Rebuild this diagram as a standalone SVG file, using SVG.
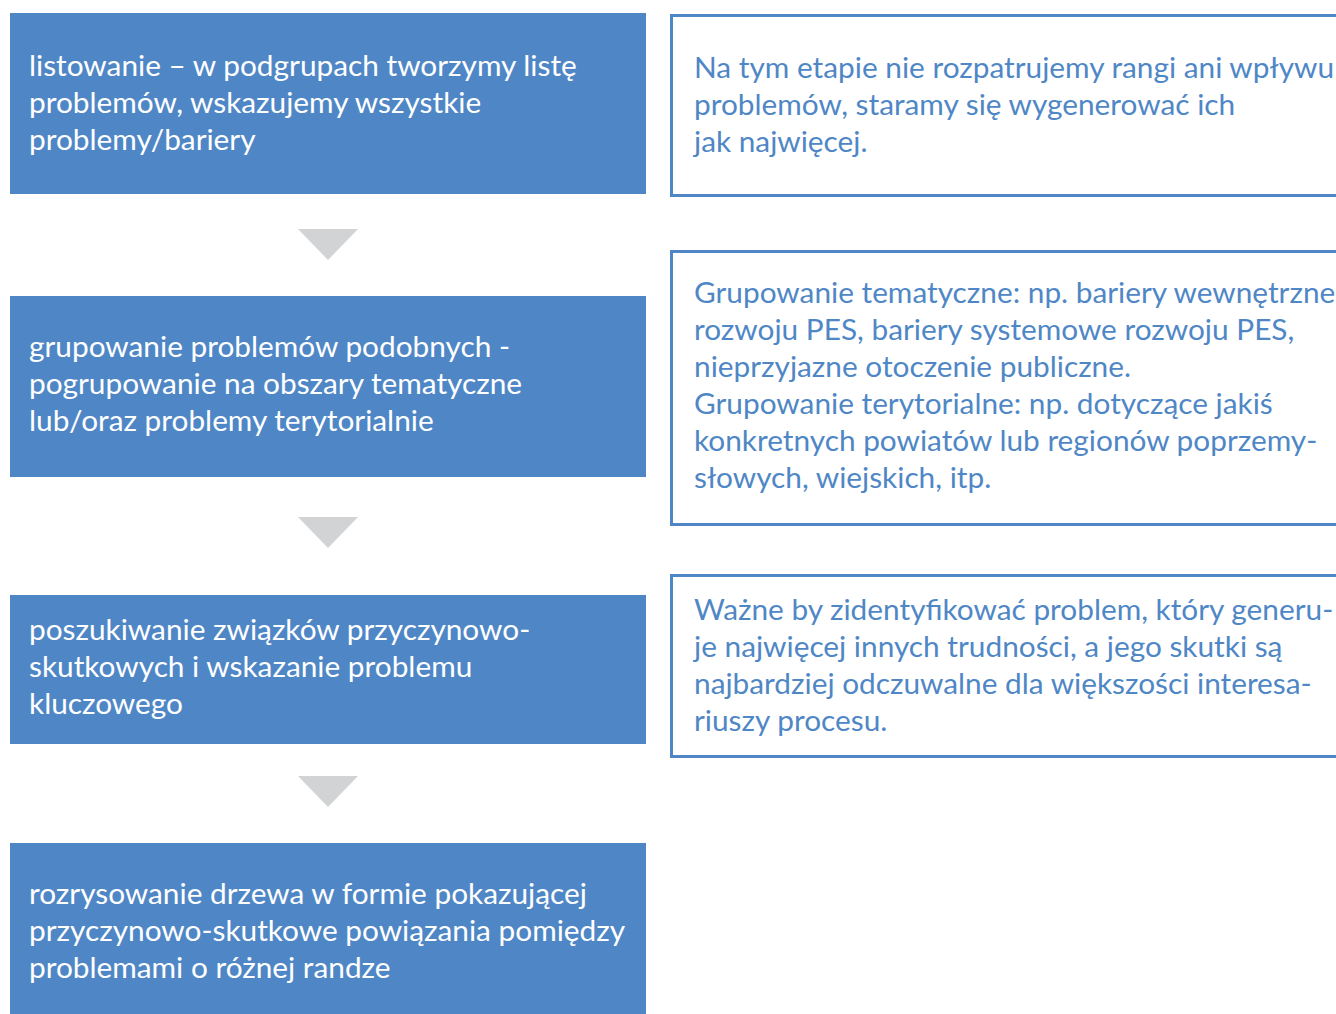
<svg xmlns="http://www.w3.org/2000/svg" width="1336" height="1014" viewBox="0 0 1336 1014">
  <style>
    .step { fill: #4f87c6; }
    .note { fill: #ffffff; stroke: #4f87c6; stroke-width: 3; }
    .arrow { fill: #d1d3d5; }
    text { font-family: Lato, "Noto Sans", "Liberation Sans", sans-serif; font-size: 29.8px; }
    .light { fill: #ffffff; }
    .blue { fill: #4f87c6; }
  </style>
  <rect width="1336" height="1014" fill="#ffffff"/>

  <!-- flow arrows between steps -->
  <g id="connectors">
    <polygon class="arrow" points="298,229 358,229 328,260"/>
    <polygon class="arrow" points="298,517 358,517 328,548"/>
    <polygon class="arrow" points="298,776 358,776 328,807"/>
  </g>

  <g id="step1">
    <rect class="step" x="10" y="13" width="636" height="181"/>
    <text class="light">
      <tspan x="29" y="76">listowanie – w podgrupach tworzymy listę</tspan>
      <tspan x="29" y="113">problemów, wskazujemy wszystkie</tspan>
      <tspan x="29" y="150">problemy/bariery</tspan>
    </text>
  </g>

  <g id="step2">
    <rect class="step" x="10" y="296" width="636" height="181"/>
    <text class="light">
      <tspan x="29" y="357">grupowanie problemów podobnych -</tspan>
      <tspan x="29" y="394">pogrupowanie na obszary tematyczne</tspan>
      <tspan x="29" y="431">lub/oraz problemy terytorialnie</tspan>
    </text>
  </g>

  <g id="step3">
    <rect class="step" x="10" y="595" width="636" height="149"/>
    <text class="light">
      <tspan x="29" y="640">poszukiwanie związków przyczynowo-</tspan>
      <tspan x="29" y="677">skutkowych i wskazanie problemu</tspan>
      <tspan x="29" y="714">kluczowego</tspan>
    </text>
  </g>

  <g id="step4">
    <rect class="step" x="10" y="843" width="636" height="171"/>
    <text class="light">
      <tspan x="29" y="904">rozrysowanie drzewa w formie pokazującej</tspan>
      <tspan x="29" y="941">przyczynowo-skutkowe powiązania pomiędzy</tspan>
      <tspan x="29" y="978">problemami o różnej randze</tspan>
    </text>
  </g>

  <g id="note1">
    <rect class="note" x="671.5" y="15.5" width="680" height="180"/>
    <text class="blue">
      <tspan x="694" y="78">Na tym etapie nie rozpatrujemy rangi ani wpływu</tspan>
      <tspan x="694" y="115">problemów, staramy się wygenerować ich</tspan>
      <tspan x="694" y="152">jak najwięcej.</tspan>
    </text>
  </g>

  <g id="note2">
    <rect class="note" x="671.5" y="251.5" width="680" height="273"/>
    <text class="blue">
      <tspan x="694" y="303">Grupowanie tematyczne: np. bariery wewnętrzne</tspan>
      <tspan x="694" y="340">rozwoju PES, bariery systemowe rozwoju PES,</tspan>
      <tspan x="694" y="377">nieprzyjazne otoczenie publiczne.</tspan>
      <tspan x="694" y="414">Grupowanie terytorialne: np. dotyczące jakiś</tspan>
      <tspan x="694" y="451">konkretnych powiatów lub regionów poprzemy-</tspan>
      <tspan x="694" y="488">słowych, wiejskich, itp.</tspan>
    </text>
  </g>

  <g id="note3">
    <rect class="note" x="671.5" y="575.5" width="680" height="181"/>
    <text class="blue">
      <tspan x="694" y="620">Ważne by zidentyfikować problem, który generu-</tspan>
      <tspan x="694" y="657">je najwięcej innych trudności, a jego skutki są</tspan>
      <tspan x="694" y="694">najbardziej odczuwalne dla większości interesa-</tspan>
      <tspan x="694" y="731">riuszy procesu.</tspan>
    </text>
  </g>
</svg>
